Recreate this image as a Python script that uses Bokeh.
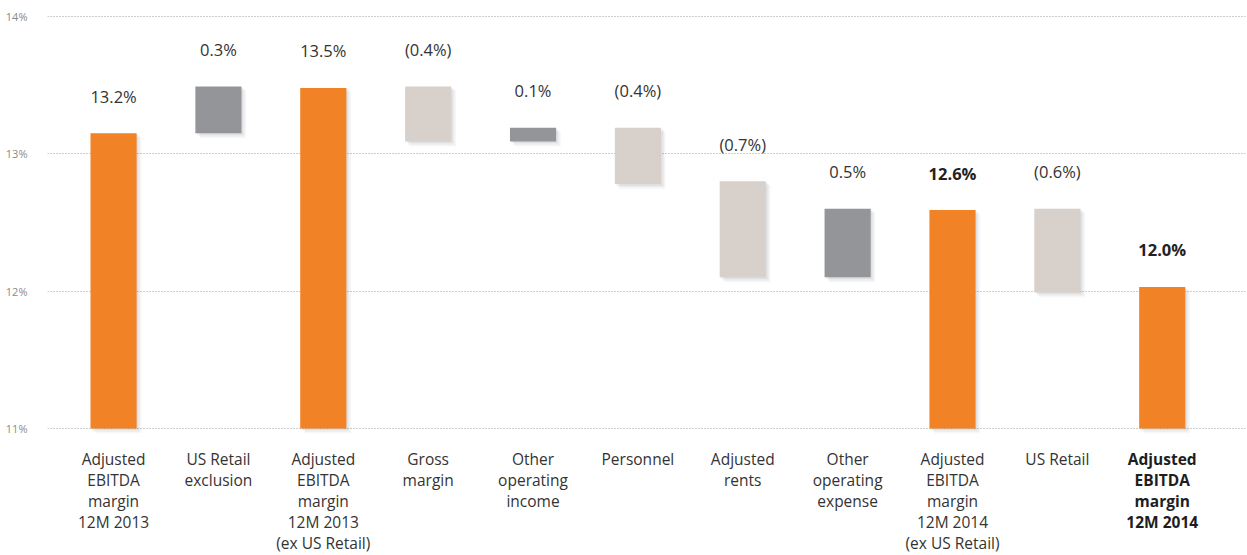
from bokeh.plotting import figure
from bokeh.models import ColumnDataSource, FixedTicker, Range1d
from bokeh.core.properties import value
from bokeh.embed import file_html
from bokeh.resources import INLINE

categories = [
    "Adjusted\nEBITDA\nmargin\n12M 2013",
    "US Retail\nexclusion",
    "Adjusted\nEBITDA\nmargin\n12M 2013\n(ex US Retail)",
    "Gross\nmargin",
    "Other\noperating\nincome",
    "Personnel",
    "Adjusted\nrents",
    "Other\noperating\nexpense",
    "Adjusted\nEBITDA\nmargin\n12M 2014\n(ex US Retail)",
    "US Retail",
    "Adjusted\nEBITDA\nmargin\n12M 2014",
]
bar_bottom = [11.0, 13.15, 11.0, 13.09, 13.09, 12.78, 12.10, 12.10, 11.0, 11.99, 11.0]
bar_top = [13.15, 13.49, 13.48, 13.49, 13.19, 13.19, 12.80, 12.60, 12.59, 12.60, 12.03]
value_labels = ["13.2%", "0.3%", "13.5%", "(0.4%)", "0.1%", "(0.4%)", "(0.7%)",
                "0.5%", "12.6%", "(0.6%)", "12.0%"]
kinds = ["total", "increase", "total", "decrease", "increase", "decrease",
         "decrease", "increase", "total", "decrease", "total"]
value_bold = [False, False, False, False, False, False, False, False, True, False, True]
category_bold = [False] * 10 + [True]
y_ticks = [11, 12, 13, 14]
y_tick_labels = {11: "11%", 12: "12%", 13: "13%", 14: "14%"}

colors = {"total": "#F28226", "increase": "#939598", "decrease": "#D8D0CA"}
FONT = "Open Sans"

x = list(range(len(categories)))
bar_w = 0.44

p = figure(width=1247, height=555, output_backend="svg", toolbar_location=None,
           x_range=Range1d(-0.63, 10.794), y_range=Range1d(10.0743, 14.1165),
           min_border_left=47, min_border_right=2, min_border_top=0, min_border_bottom=0)
p.outline_line_color = None
p.background_fill_color = "white"
p.border_fill_color = "white"
p.xaxis.visible = False
p.xgrid.visible = False

p.yaxis.ticker = FixedTicker(ticks=y_ticks)
p.yaxis.major_label_overrides = y_tick_labels
p.yaxis.axis_line_color = None
p.yaxis.major_tick_line_color = None
p.yaxis.minor_tick_line_color = None
p.yaxis.major_label_standoff = 14
p.yaxis.major_label_text_font = FONT
p.yaxis.major_label_text_font_size = "11px"
p.yaxis.major_label_text_color = "#8a8a8a"
p.ygrid.grid_line_color = "#9a9a9a"
p.ygrid.grid_line_dash = "1 2"
p.ygrid.grid_line_width = 1

src = ColumnDataSource(dict(
    x=x,
    left=[i - bar_w / 2 for i in x],
    right=[i + bar_w / 2 for i in x],
    bottom=bar_bottom,
    top=bar_top,
    color=[colors[k] for k in kinds],
    label=value_labels,
    cat=categories,
))

# soft shadows
for k, a in [(0.045, 0.05), (0.03, 0.07), (0.015, 0.09)]:
    sh = ColumnDataSource(dict(
        left=[i - bar_w / 2 + k for i in x],
        right=[i + bar_w / 2 + k for i in x],
        bottom=[b - k * 0.8 for b in bar_bottom],
        top=[t - k * 0.6 for t in bar_top],
    ))
    p.quad(left="left", right="right", bottom="bottom", top="top", source=sh,
           fill_color="#5a6570", fill_alpha=a, line_color=None)

p.quad(left="left", right="right", bottom="bottom", top="top", source=src,
       fill_color="color", line_color=None)

# value labels
for bold in (False, True):
    idx = [i for i in x if value_bold[i] == bold]
    s = ColumnDataSource(dict(x=[x[i] for i in idx], y=[bar_top[i] for i in idx],
                              t=[value_labels[i] for i in idx]))
    p.text(x="x", y="y", text="t", source=s, y_offset=-37,
           text_align="center", text_baseline="middle",
           text_font=value(FONT), text_font_size="16.5px",
           text_font_style="bold" if bold else "normal",
           text_color="#222222" if bold else "#333333")

# category labels
for bold in (False, True):
    idx = [i for i in x if category_bold[i] == bold]
    s = ColumnDataSource(dict(x=[x[i] for i in idx], y=[min(y_ticks)] * len(idx),
                              t=[categories[i] for i in idx]))
    p.text(x="x", y="y", text="t", source=s, y_offset=20,
           text_align="center", text_baseline="top",
           text_font=value(FONT), text_font_size="15.5px", text_line_height=0.95,
           text_font_style="bold" if bold else "normal",
           text_color="#1e1e1e" if bold else "#333333")

open("out.html", "w").write(file_html(p, INLINE))
